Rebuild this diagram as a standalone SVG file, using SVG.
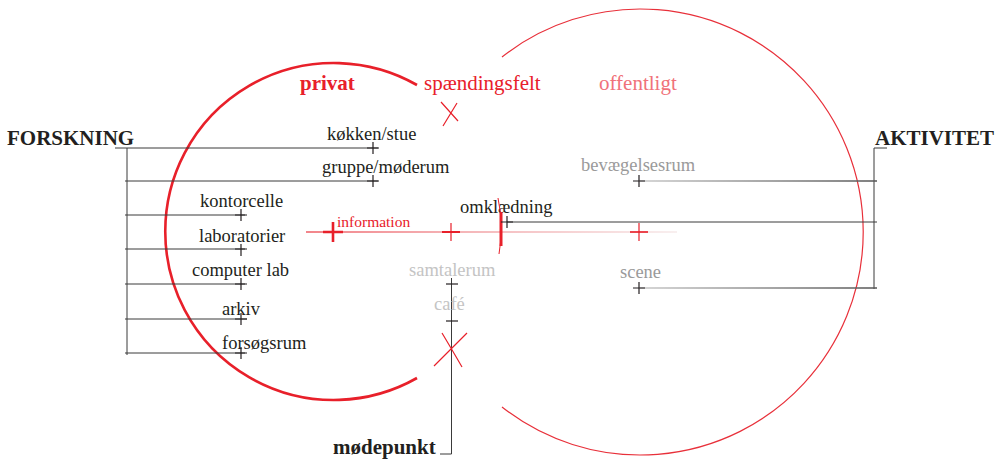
<svg xmlns="http://www.w3.org/2000/svg" width="1008" height="463" viewBox="0 0 1008 463">
<style>
text{font-family:"Liberation Serif","Times New Roman",serif;}
.h{font-size:21px;font-weight:bold;fill:#231f20;}
.l{font-size:18.5px;fill:#231f20;}
.g{font-size:18.5px;fill:#9a9a9a;}
.lg{font-size:18.5px;fill:#c4c4c4;}
.ln{stroke:#3a3a3a;stroke-width:1;fill:none;}
.x{stroke:#231f20;stroke-width:1.2;fill:none;}
.rx{stroke:#e8202a;stroke-width:1.2;fill:none;}
</style>
<defs>
<linearGradient id="info" gradientUnits="userSpaceOnUse" x1="306" y1="0" x2="677" y2="0">
<stop offset="0" stop-color="#ee5c63"/>
<stop offset="0.5" stop-color="#f2a8ab"/>
<stop offset="1" stop-color="#f6eaea"/>
</linearGradient>
<linearGradient id="gr" gradientUnits="userSpaceOnUse" x1="640" y1="0" x2="877" y2="0">
<stop offset="0" stop-color="#c8c8c8"/>
<stop offset="1" stop-color="#555555"/>
</linearGradient>
</defs>
<rect width="1008" height="463" fill="#ffffff"/>

<g id="circles">
<path d="M417,85 A168.5,168.5 0 1 0 417,378" fill="none" stroke="#e8202a" stroke-width="2.6"/>
<path d="M502,57 A223,223 0 1 1 502,407" fill="none" stroke="#e8303a" stroke-width="1.2"/>
</g>

<g id="connectors">
<!-- left bracket -->
<path class="ln" d="M127,148 V355"/>
<path class="ln" d="M115,148 H378"/>
<path class="ln" d="M125,181 H378"/>
<path class="ln" d="M125,215 H245"/>
<path class="ln" d="M125,249 H245"/>
<path class="ln" d="M125,284 H245"/>
<path class="ln" d="M125,319 H247" stroke-width="1.5"/>
<path class="ln" d="M125,353 H245"/>
<!-- right bracket -->
<path class="ln" d="M874,148 V289" stroke="#666" stroke-width="1.5"/>
<path class="ln" d="M874,148 H887" stroke="#666" stroke-width="1.5"/>
<path d="M640,181 H877" stroke="url(#gr)" stroke-width="1.3" fill="none"/>
<path d="M640,288 H877" stroke="url(#gr)" stroke-width="1.3" fill="none"/>
<path class="ln" d="M507,222 H877"/>
<!-- information line -->
<path d="M306,232 H677" stroke="url(#info)" stroke-width="1.5" fill="none"/>
<path d="M442,232 H460" stroke="#e8202a" stroke-width="2" fill="none"/>
<path d="M630,232 H648" stroke="#ee6a70" stroke-width="2" fill="none"/>
<!-- mødepunkt line -->
<path class="ln" d="M451.5,278 V454 H440"/>
</g>

<g id="forskning"><text class="h" x="7" y="145">FORSKNING</text></g>
<g id="aktivitet"><text class="h" x="875" y="145">AKTIVITET</text></g>
<g id="modepunkt"><text class="h" x="333" y="454">mødepunkt</text></g>
<g id="privat"><text class="h" x="300" y="90" fill="#e8202a" style="fill:#e8202a">privat</text></g>
<g id="spaendingsfelt">
<text x="424" y="90" font-size="21" fill="#e8202a">spændingsfelt</text>
<path class="rx" d="M441,102 L458,121 M457,103 L443,126"/>
</g>
<g id="offentligt"><text x="599" y="90" font-size="21" fill="#f0727a">offentligt</text></g>

<g id="kokken"><text class="l" x="327" y="140">køkken/stue</text><path class="x" d="M367,148 H379 M373,142 V154"/></g>
<g id="gruppe"><text class="l" x="322" y="173">gruppe/møderum</text><path class="x" d="M367,181 H379 M373,175 V187"/></g>
<g id="kontorcelle"><text class="l" x="200" y="207">kontorcelle</text><path class="x" d="M235,215 H247 M241,209 V221"/></g>
<g id="laboratorier"><text class="l" x="199" y="242">laboratorier</text><path class="x" d="M235,249 H247 M241,244 V256"/></g>
<g id="computerlab"><text class="l" x="192" y="276">computer lab</text><path class="x" d="M235,284 H247 M241,278 V290"/></g>
<g id="arkiv"><text class="l" x="222" y="315">arkiv</text><path class="x" d="M235,319 H247 M241,313 V325"/></g>
<g id="forsogsrum"><text class="l" x="222" y="349">forsøgsrum</text><path class="x" d="M235,353 H247 M241,347 V359"/></g>

<g id="information">
<text x="337" y="227" font-size="15.5" fill="#e8202a">information</text>
<path d="M323,232 H343 M333,222 V242" stroke="#e8202a" stroke-width="2.6" fill="none"/>
<path class="rx" d="M442,232 H460 M451,223 V241"/>
</g>

<g id="omklaedning">
<text class="l" x="460" y="213">omklædning</text>
<path d="M498,198 Q504,226 499,254" stroke="#e8202a" stroke-width="1" fill="none"/>
<path d="M501,212 V246" stroke="#e8202a" stroke-width="3" fill="none"/>
<path class="x" d="M501,222 H513 M507,216 V228"/>
</g>

<g id="bevaegelsesrum"><text class="g" x="581" y="171">bevægelsesrum</text><path class="x" d="M633,181 H645 M639,175 V187"/></g>
<g id="scene"><text class="g" x="620" y="278">scene</text><path class="x" d="M633,288 H645 M639,282 V294"/></g>
<g id="redcross-right"><path class="rx" d="M630,232 H648 M639,223 V241"/></g>

<g id="samtalerum"><text class="lg" x="409" y="276">samtalerum</text><path class="x" d="M446,284 H458" stroke="#555"/></g>
<g id="cafe"><text class="lg" x="434" y="310">café</text><path class="x" d="M446,321 H458" stroke="#555"/></g>
<g id="mode-x"><path class="rx" d="M442,333 Q451,348 462,367 M467,333 Q450,350 434,366"/></g>
</svg>
